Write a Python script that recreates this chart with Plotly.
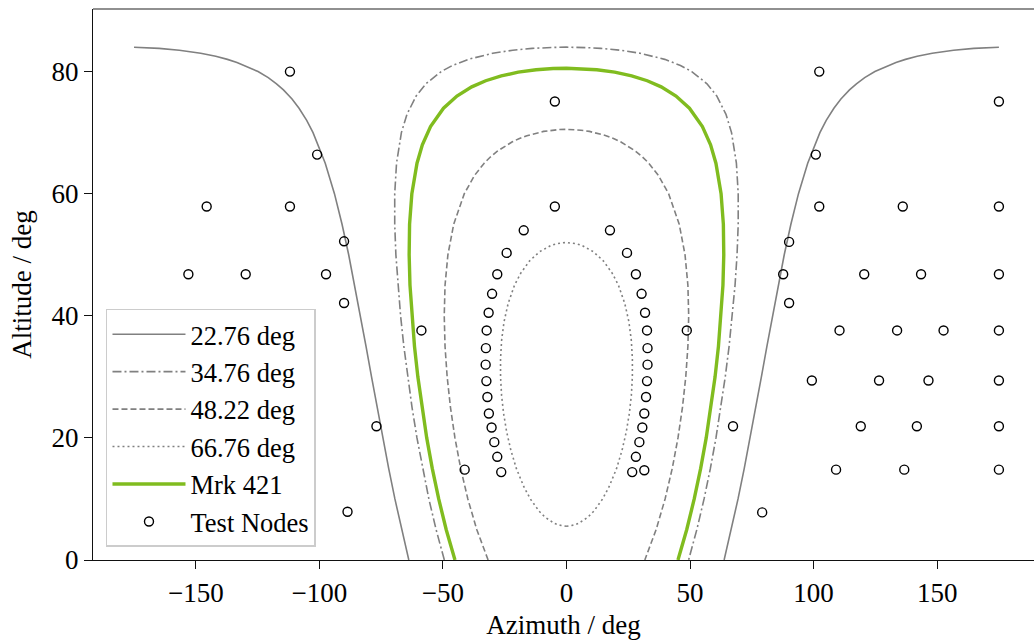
import plotly.graph_objects as go

# ---------------- data ----------------
# 22.76 deg track: two branches (left / right), altitude vs azimuth
alt_2276 = [0, 5, 10, 15, 20, 25, 30, 35, 40, 45, 50, 55, 60, 65, 70, 72, 74, 75.5, 77, 78,
            79, 80, 81, 81.5, 82, 82.5, 83, 83.5, 83.8, 83.9, 83.95, 83.98]
az_2276_right = [63.80, 66.73, 69.43, 71.95, 74.34, 76.64, 78.88, 81.11, 83.36, 85.68, 88.13,
                 90.82, 93.89, 97.62, 102.56, 105.12, 108.22, 111.06, 114.53, 117.34, 120.69,
                 124.81, 130.07, 133.34, 137.20, 141.93, 148.03, 156.66, 164.86, 169.1, 172.1, 175.0]
az_2276_left = [-63.80, -66.73, -69.43, -71.95, -74.34, -76.64, -78.88, -81.11, -83.36, -85.68, -88.13,
                -90.82, -93.89, -97.62, -102.56, -105.12, -108.22, -111.06, -114.53, -117.34, -120.69,
                -124.81, -130.07, -133.34, -137.20, -141.93, -148.03, -156.66, -164.86, -169.1, -172.1, -175.0]

# 34.76 deg track (left side up, then right side down)
az_3476 = [-49.42, -52.77, -55.68, -58.24, -60.50, -62.50, -64.26, -65.81, -67.13, -68.22, -69.03,
           -69.50, -69.50, -68.77, -66.80, -64.55, -60.82, -56.87, -50.70, -46.14, -39.76, -29.83,
           -21.73, -13.87, -9.70, -6.58, -3.1, 0.0,
           3.1, 6.58, 9.70, 13.87, 21.73, 29.83, 39.76, 46.14, 50.70, 56.87, 60.82, 64.55, 66.80,
           68.77, 69.50, 69.50, 69.03, 68.22, 67.13, 65.81, 64.26, 62.50, 60.50, 58.24, 55.68, 52.77, 49.42]
alt_3476 = [0, 5, 10, 15, 20, 25, 30, 35, 40, 45, 50, 55, 60, 65, 70, 73, 76, 78, 80, 81, 82, 83,
            83.5, 83.8, 83.9, 83.95, 83.99, 84.0,
            83.99, 83.95, 83.9, 83.8, 83.5, 83, 82, 81, 80, 78, 76, 73, 70, 65, 60, 55, 50, 45, 40,
            35, 30, 25, 20, 15, 10, 5, 0]

# 48.22 deg track
az_4822 = [-31.71, -36.30, -39.91, -42.81, -45.13, -46.94, -48.28, -49.14, -49.46, -49.14, -47.98,
           -45.63, -41.34, -37.19, -33.29, -30.81, -27.84, -21.90, -19.26, -16.02, -9.29, -5.91, -3.03, 0.0,
           3.03, 5.91, 9.29, 16.02, 19.26, 21.90, 27.84, 30.81, 33.29, 37.19, 41.34, 45.63, 47.98,
           49.14, 49.46, 49.14, 48.28, 46.94, 45.13, 42.81, 39.91, 36.30, 31.71]
alt_4822 = [0, 5, 10, 15, 20, 25, 30, 35, 40, 45, 50, 55, 60, 63, 65, 66, 67, 68.5, 69, 69.5, 70.2,
            70.4, 70.5, 70.54,
            70.5, 70.4, 70.2, 69.5, 69, 68.5, 67, 66, 65, 63, 60, 55, 50, 45, 40, 35, 30, 25, 20,
            15, 10, 5, 0]

# 66.76 deg track (closed loop)
az_6676 = [0.0, 1.95, 3.39, 4.93, 8.63, 11.08, 14.62, 17.25, 20.29, 22.51, 24.21, 25.44, 26.26,
           26.67, 26.68, 26.24, 25.27, 23.61, 21.03, 18.48, 14.90, 10.85, 6.34, 3.97, 1.81, 0.0,
           -1.81, -3.97, -6.34, -10.85, -14.90, -18.48, -21.03, -23.61, -25.27, -26.24, -26.68,
           -26.67, -26.26, -25.44, -24.21, -22.51, -20.29, -17.25, -14.62, -11.08, -8.63, -4.93,
           -3.39, -1.95, 0.0]
alt_6676 = [5.52, 5.6, 5.75, 6, 7, 8, 10, 12, 15, 18, 21, 24, 27, 30, 33, 36, 39, 42, 45, 47, 49,
            50.5, 51.5, 51.8, 51.95, 52.0,
            51.95, 51.8, 51.5, 50.5, 49, 47, 45, 42, 39, 36, 33, 30, 27, 24, 21, 18, 15, 12, 10, 8,
            7, 6, 5.75, 5.6, 5.52]

# Mrk 421 track
az_mrk = [-45.12, -48.68, -51.70, -54.31, -56.55, -58.49, -60.14, -61.50, -62.57, -63.32, -63.66,
          -63.49, -62.57, -60.48, -58.32, -55.01, -49.76, -44.32, -38.33, -32.68, -26.38, -19.51,
          -12.28, -7.7, -5.39, 0.0,
          5.39, 7.7, 12.28, 19.51, 26.38, 32.68, 38.33, 44.32, 49.76, 55.01, 58.32, 60.48, 62.57,
          63.49, 63.66, 63.32, 62.57, 61.50, 60.14, 58.49, 56.55, 54.31, 51.70, 48.68, 45.12]
alt_mrk = [0, 5, 10, 15, 20, 25, 30, 35, 40, 45, 50, 55, 60, 65, 68, 71, 74, 76, 77.5, 78.5, 79.3,
           79.9, 80.3, 80.45, 80.5, 80.55,
           80.5, 80.45, 80.3, 79.9, 79.3, 78.5, 77.5, 76, 74, 71, 68, 65, 60, 55, 50, 45, 40, 35,
           30, 25, 20, 15, 10, 5, 0]

# Test nodes
node_az = [-111.9, -100.9, -145.6, -111.9, -90.0, -153.0, -129.8, -97.3, -90.0, -58.7, -76.9, -88.6, -41.2,
           -4.7, -4.7, -17.3, 17.6, -24.2, 24.5, -28.0, 28.1, -30.1, 30.4, -31.5, 31.8, -32.3, 32.6,
           -32.6, 32.8, -32.7, 32.8, -32.4, 32.6, -32.0, 32.2, -31.4, 31.5, -30.3, 30.7, -29.2, 29.5,
           -28.0, 28.1, -26.4, 26.6, 31.5, 48.7,
           102.3, 100.9, 175.0, 102.3, 136.1, 175.0, 90.1, 87.7, 120.5, 143.5, 175.0, 90.1, 110.5,
           133.8, 152.6, 175.0, 99.3, 126.5, 146.5, 175.0, 67.4, 119.1, 141.8, 175.0, 109.1, 136.7,
           175.0, 79.2]
node_alt = [80.0, 66.4, 57.9, 57.9, 52.2, 46.8, 46.8, 46.8, 42.1, 37.6, 21.9, 7.9, 14.8,
            75.1, 57.9, 54.0, 54.0, 50.3, 50.3, 46.8, 46.8, 43.6, 43.6, 40.5, 40.5, 37.6, 37.6,
            34.7, 34.7, 32.0, 32.0, 29.3, 29.3, 26.7, 26.7, 24.0, 24.0, 21.7, 21.7, 19.3, 19.3,
            16.9, 16.9, 14.4, 14.4, 14.7, 37.6,
            80.0, 66.4, 75.1, 57.9, 57.9, 57.9, 52.1, 46.8, 46.8, 46.8, 46.8, 42.1, 37.6,
            37.6, 37.6, 37.6, 29.4, 29.4, 29.4, 29.4, 21.9, 21.9, 21.9, 21.9, 14.8, 14.8,
            14.8, 7.8]

x_ticks = [-150, -100, -50, 0, 50, 100, 150]
y_ticks = [0, 20, 40, 60, 80]

# ---------------- figure ----------------
GRAY = "#808080"
GREEN = "#80bc1f"
FONT = "Liberation Serif"

fig = go.Figure()

fig.add_trace(go.Scatter(
    x=az_2276_left + [None] + az_2276_right,
    y=alt_2276 + [None] + alt_2276,
    mode="lines", name="22.76 deg",
    line=dict(color=GRAY, width=1.6),
    connectgaps=False))
fig.add_trace(go.Scatter(x=az_3476, y=alt_3476, mode="lines", name="34.76 deg",
                         line=dict(color=GRAY, width=1.6, dash="9px,3px,2px,3px")))
fig.add_trace(go.Scatter(x=az_4822, y=alt_4822, mode="lines", name="48.22 deg",
                         line=dict(color=GRAY, width=1.6, dash="6px,3px")))
fig.add_trace(go.Scatter(x=az_6676, y=alt_6676, mode="lines", name="66.76 deg",
                         line=dict(color=GRAY, width=1.6, dash="2px,3px")))
fig.add_trace(go.Scatter(x=az_mrk, y=alt_mrk, mode="lines", name="Mrk 421",
                         line=dict(color=GREEN, width=3.4)))
fig.add_trace(go.Scatter(x=node_az, y=node_alt, mode="markers", name="Test Nodes",
                         marker=dict(symbol="circle-open", size=9, color="black",
                                     line=dict(width=1.4, color="black"))))

fig.add_shape(type="line", xref="paper", yref="paper", x0=0, x1=1, y0=1, y1=1,
              line=dict(color="#222222", width=1.2))

fig.update_layout(
    width=1034, height=640,
    margin=dict(l=93, r=0, t=9, b=80),
    paper_bgcolor="white", plot_bgcolor="white",
    font=dict(family=FONT, size=27, color="black"),
    showlegend=True,
    legend=dict(x=0.0138, y=0.0236, xanchor="left", yanchor="bottom",
                bgcolor="rgba(255,255,255,0.85)", bordercolor="#cccccc", borderwidth=1.5,
                font=dict(family=FONT, size=26.5), itemwidth=73,
                entrywidth=140, entrywidthmode="pixels"),
    xaxis=dict(range=[-191.6, 189.2], tickvals=x_ticks,
               ticktext=[("\u2212" + str(-v)) if v < 0 else str(v) for v in x_ticks],
               showgrid=False, zeroline=False, showline=True, linecolor="#111111", linewidth=1.2,
               ticks="outside", ticklen=8, tickwidth=1.2, tickcolor="#111111",
               title=dict(text="Azimuth / deg", standoff=10, font=dict(family=FONT, size=27))),
    yaxis=dict(range=[0, 90.25], tickvals=y_ticks,
               showgrid=False, zeroline=False, showline=True, linecolor="#111111", linewidth=1.2,
               ticks="outside", ticklen=8, tickwidth=1.2, tickcolor="#111111",
               title=dict(text="Altitude / deg", standoff=12, font=dict(family=FONT, size=27))),
)

fig.write_html("out.html")
